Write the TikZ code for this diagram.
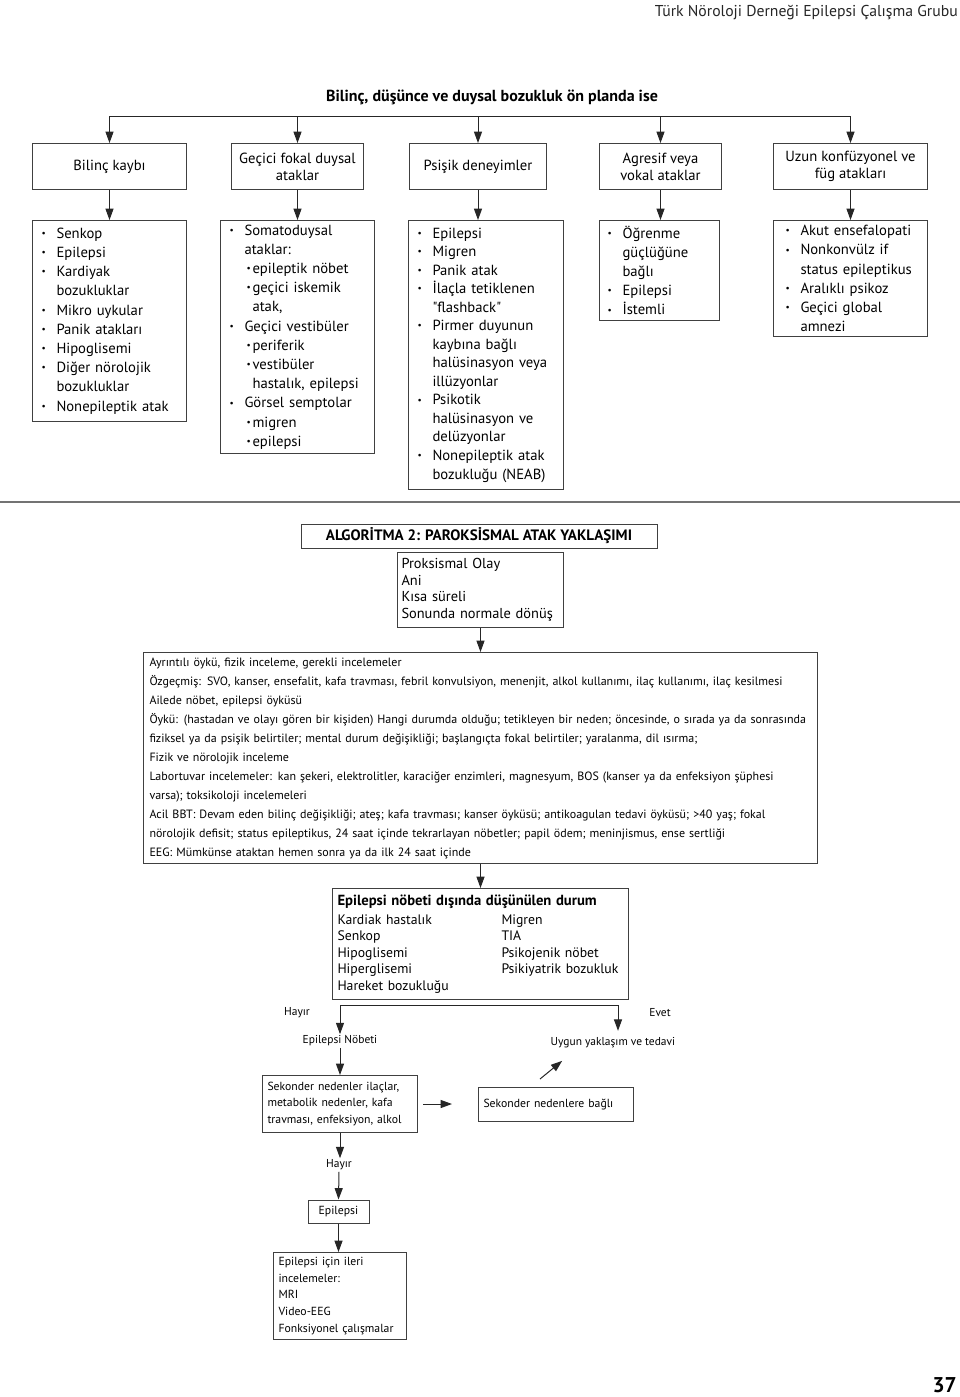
\documentclass[tikz,border=0pt]{standalone}
\usepackage{fontspec}
\setmainfont{PT Sans}[Ligatures=TeXOff]
\usetikzlibrary{arrows.meta, calc}

\tikzset{
  box/.style={draw=black!75, line width=0.75pt, inner sep=0pt},
  hbox/.style={box, anchor=north west, align=center, font=\fontsize{11}{12.75}\selectfont},
  lbox/.style={box, anchor=north west, align=left, inner xsep=6.75pt, font=\fontsize{11}{14.4}\selectfont},
  tbox/.style={box, anchor=north west, align=left, inner xsep=3.75pt},
  arr/.style={draw=black!85, line width=0.75pt, -{Triangle[length=8.5pt,width=6pt]}},
  lbl/.style={inner sep=1pt, font=\fontsize{8.6}{10}\selectfont},
}
\newcommand{\bl}{\makebox[11.25pt][l]{\raisebox{0.25ex}{\scriptsize\textbullet}}}
\newcommand{\cn}{\hspace*{11.25pt}}
\newcommand{\sbl}{\hspace*{12.75pt}\makebox[4.5pt][l]{\raisebox{0.25ex}{\scriptsize\textbullet}}}
\newcommand{\scn}{\hspace*{17.25pt}}

\begin{document}
\begin{tikzpicture}[x=0.75pt, y=-0.75pt]
\useasboundingbox (0,0) rectangle (960,1397);

\node[anchor=east, inner sep=0pt, text=black!85, font=\fontsize{11.8}{13}\selectfont] (hdr) at (958,12) {Türk Nöroloji Derneği Epilepsi Çalışma Grubu};
\node[font=\bfseries\fontsize{12}{14}\selectfont] (title) at (492,97) {Bilinç, düşünce ve duysal bozukluk ön planda ise};

% first row
\node[hbox, minimum width=115.5pt, minimum height=34.5pt] (b1) at (32,143) {Bilinç kaybı};
\node[hbox, minimum width=99pt, minimum height=34.5pt] (b2) at (231,143) {Geçici fokal duysal\\ataklar};
\node[hbox, minimum width=102.75pt, minimum height=34.5pt] (b3) at (409,143) {Psişik deneyimler};
\node[hbox, minimum width=91.5pt, minimum height=34.5pt] (b4) at (599,143) {Agresif veya\\vokal ataklar};
\node[hbox, minimum width=115.5pt, minimum height=34.5pt] (b5) at (773,143) {Uzun konfüzyonel ve\\füg atakları};

\coordinate (bus) at (0,116);
\draw[draw=black!85, line width=0.75pt] (b1.north |- bus) -- (b5.north |- bus);
\foreach \b in {b1,b2,b3,b4,b5}
  \draw[arr] (\b.north |- bus) -- (\b.north);

% second row
\node[lbox, text width=102pt, minimum height=150.75pt] (c1) at (32,220) {\bl Senkop\\ \bl Epilepsi\\ \bl Kardiyak\\ \cn bozukluklar\\ \bl Mikro uykular\\ \bl Panik atakları\\ \bl Hipoglisemi\\ \bl Diğer nörolojik\\ \cn bozukluklar\\ \bl Nonepileptik atak};
\node[lbox, text width=102pt, minimum height=174.75pt] (c2) at (220,220) {\bl Somatoduysal\\ \cn ataklar:\\ \sbl epileptik nöbet\\ \sbl geçici iskemik\\ \scn atak,\\ \bl Geçici vestibüler\\ \sbl periferik\\ \sbl vestibüler\\ \scn hastalık, epilepsi\\ \bl Görsel semptolar\\ \sbl migren\\ \sbl epilepsi};
\node[lbox, text width=102.75pt, minimum height=201.75pt, font=\fontsize{11}{13.9}\selectfont] (c3) at (408,220) {\bl Epilepsi\\ \bl Migren\\ \bl Panik atak\\ \bl İlaçla tetiklenen\\ \cn "flashback"\\ \bl Pirmer duyunun\\ \cn kaybına bağlı\\ \cn halüsinasyon veya\\ \cn illüzyonlar\\ \bl Psikotik\\ \cn halüsinasyon ve\\ \cn delüzyonlar\\ \bl Nonepileptik atak\\ \cn bozukluğu (NEAB)};
\node[lbox, inner xsep=6pt, text width=78pt, minimum height=75pt] (c4) at (599,220) {\bl Öğrenme\\ \cn güçlüğüne\\ \cn bağlı\\ \bl Epilepsi\\ \bl İstemli};
\node[lbox, inner xsep=9pt, text width=97.5pt, minimum height=87pt] (c5) at (773,220) {\bl Akut ensefalopati\\ \bl Nonkonvülz if\\ \cn status epileptikus\\ \bl Aralıklı psikoz\\ \bl Geçici global\\ \cn amnezi};

\foreach \b/\c in {b1/c1,b2/c2,b3/c3,b4/c4,b5/c5}
  \draw[arr] (\b.south) -- (\b.south |- \c.north);

\draw[draw=black!55, line width=1pt] (0,502) -- (960,502);

% algorithm
\node[box, minimum width=267pt, minimum height=18pt, font=\bfseries\fontsize{11.3}{12}\selectfont] (alg) at (479,536) {ALGORİTMA 2: PAROKSİSMAL ATAK YAKLAŞIMI};
\node[tbox, inner xsep=3pt, text width=118.5pt, minimum height=56.25pt, font=\fontsize{10.8}{12.5}\selectfont] (olay) at (397,552) {Proksismal Olay\\ Ani\\ Kısa süreli\\ Sonunda normale dönüş};
\node[tbox, inner xsep=4.5pt, text width=496.5pt, minimum height=158.25pt, font=\fontsize{9}{14.25}\selectfont] (big) at (143,652) {Ayrıntılı öykü, fizik inceleme, gerekli incelemeler\\
\mbox{Özgeçmiş: SVO, kanser, ensefalit, kafa travması, febril konvulsiyon, menenjit, alkol kullanımı, ilaç kullanımı, ilaç kesilmesi}\\
Ailede nöbet, epilepsi öyküsü\\
\mbox{Öykü: (hastadan ve olayı gören bir kişiden) Hangi durumda olduğu; tetikleyen bir neden; öncesinde, o sırada ya da sonrasında}\\
\mbox{fiziksel ya da psişik belirtiler; mental durum değişikliği; başlangıçta fokal belirtiler; yaralanma, dil ısırma;}\\
Fizik ve nörolojik inceleme\\
\mbox{Labortuvar incelemeler: kan şekeri, elektrolitler, karaciğer enzimleri, magnesyum, BOS (kanser ya da enfeksiyon şüphesi}\\
varsa); toksikoloji incelemeleri\\
\mbox{Acil BBT: Devam eden bilinç değişikliği; ateş; kafa travması; kanser öyküsü; antikoagulan tedavi öyküsü; >40 yaş; fokal}\\
\mbox{nörolojik defisit; status epileptikus, 24 saat içinde tekrarlayan nöbetler; papil ödem; meninjismus, ense sertliği}\\
EEG: Mümkünse ataktan hemen sonra ya da ilk 24 saat içinde};
\node[tbox, text width=214.5pt, minimum height=83.25pt, font=\fontsize{10.3}{12.4}\selectfont] (durum) at (332,888) {{\bfseries\fontsize{11}{12.4}\selectfont Epilepsi nöbeti dışında düşünülen durum}\\[1.5pt]
\makebox[123pt][l]{Kardiak hastalık}Migren\\
\makebox[123pt][l]{Senkop}TIA\\
\makebox[123pt][l]{Hipoglisemi}Psikojenik nöbet\\
\makebox[123pt][l]{Hiperglisemi}Psikiyatrik bozukluk\\
Hareket bozukluğu};

\draw[arr] (olay.south) -- (olay.south |- big.north);
\draw[arr] (big.south -| olay.south) -- (olay.south |- durum.north);

% branches
\node[lbl] (hayir) at (297,1013) {Hayır};
\node[lbl] (evet) at (660,1013) {Evet};
\node[lbl] (nobet) at (340,1041) {Epilepsi Nöbeti};
\node[lbl] (uygun) at (613,1043) {Uygun yaklaşım ve tedavi};
\coordinate (split) at (0,1005);
\draw[draw=black!85, line width=0.75pt] (nobet.north |- split) -- (618,1005);
\draw[arr] (nobet.north |- split) -- (nobet.north);
\draw[arr, shorten >=4pt] (618,1005) -- (uygun.north -| 618,0);

\node[tbox, text width=108.75pt, minimum height=42.75pt, font=\fontsize{8.8}{12.4}\selectfont] (sek) at (262,1075) {Sekonder nedenler ilaçlar,\\ metabolik nedenler, kafa\\ travması, enfeksiyon, alkol};
\node[tbox, text width=108.75pt, minimum height=25.5pt, font=\fontsize{8.8}{12.4}\selectfont] (bagli) at (478,1087) {Sekonder nedenlere bağlı};
\draw[arr] (nobet.south) -- (nobet.south |- sek.north);
\draw[arr, shorten <=3.75pt, shorten >=19.5pt] (sek.east) -- (bagli.west |- sek.east);
\draw[arr] ($(bagli.north west)+(62,-8)$) -- ($(uygun.south west)+(13,11)$);

\node[lbl] (hayir2) at (339,1165) {Hayır};
\node[box, minimum width=45.75pt, minimum height=17.25pt, font=\fontsize{8.8}{10}\selectfont] (ep) at (338.5,1211.5) {Epilepsi};
\node[tbox, text width=92.25pt, minimum height=65.25pt, font=\fontsize{8.8}{12.4}\selectfont] (ileri) at (273,1252) {Epilepsi için ileri\\ incelemeler:\\ MRI\\ Video-EEG\\ Fonksiyonel çalışmalar};
\draw[arr] (sek.south) -- (sek.south |- hayir2.north);
\draw[arr] (hayir2.south) -- (ep.north);
\draw[arr] (ep.south) -- (ep.south |- ileri.north);

\node[anchor=east, inner sep=0pt, font=\bfseries\fontsize{16}{16}\selectfont] (pg) at (957,1385) {37};
\end{tikzpicture}
\end{document}
